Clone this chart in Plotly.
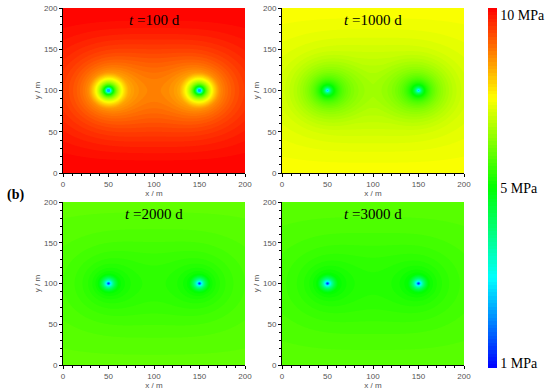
import numpy as np
import plotly.graph_objects as go

# ---- data ----
panel_titles = ["<i>t</i> =100 d", "<i>t</i> =1000 d", "<i>t</i> =2000 d", "<i>t</i> =3000 d"]
edge_pressure = [10.0, 7.45, 5.93, 5.85]    # MPa at y=0 / y=200 boundaries
far_drawdown = [5.6, 3.8, 2.2, 2.1]         # MPa, reservoir-scale drawdown amplitude
near_drawdown = [4.0, 1.1, 2.3, 2.4]        # MPa, near-well cone amplitude
cone_radius = [22.0, 50.0, 12.0, 12.0]      # m
min_pressure = [2.4, 2.3, 1.4, 1.3]         # MPa at the wells
well_x = [50.0, 150.0]
well_y = [100.0, 100.0]
bar_ticks = [1.0, 5.0, 10.0]
bar_labels = ["1 MPa", "5 MPa", "10 MPa"]
bar_tick_pos = [0.014, 0.5, 0.98]           # where the labels sit along the bar
axis_ticks = [0, 50, 100, 150, 200]

H = 200.0
rw = 1.0
grid = np.arange(0, 201, 1.0)
X, Y = np.meshgrid(grid, grid)


def strip_kernel(X, Y, x0, y0):
    a = np.cosh(np.pi * (X - x0) / H)
    num = a - np.cos(np.pi * (Y + y0) / H)
    den = a - np.cos(np.pi * (Y - y0) / H)
    den = np.maximum(den, (np.pi * rw / H) ** 2 / 2)
    return np.log(num / den)


f = sum(strip_kernel(X, Y, xw, yw) for xw, yw in zip(well_x, well_y))
s = np.clip(f / f.max(), 0, 1) ** 1.5
r = np.minimum.reduce([np.hypot(X - xw, Y - yw) for xw, yw in zip(well_x, well_y)])
r = np.maximum(r, rw)

colorscale = [
    [0.0, "rgb(0,0,255)"],
    [0.25, "rgb(0,255,255)"],
    [0.5, "rgb(0,255,0)"],
    [0.75, "rgb(255,255,0)"],
    [1.0, "rgb(255,0,0)"],
]

W, Hpx = 550, 390
px_x = [(63, 245), (282, 464), (63, 245), (282, 464)]
px_y = [(8, 173), (8, 173), (202, 365), (202, 365)]


def fx(v):
    return v / W


def fy(v):
    return 1 - v / Hpx


axfont = dict(family="Liberation Sans", size=8, color="#555555")
fig = go.Figure()
for i in range(4):
    R = cone_radius[i]
    L = np.clip(np.log(R / r) / np.log(R / rw), 0, 1)
    p = edge_pressure[i] - far_drawdown[i] * s - near_drawdown[i] * L
    p = np.maximum(p, min_pressure[i])
    c = np.interp(p, bar_ticks, [0.0, 0.5, 1.0])
    xa = "x" if i == 0 else f"x{i+1}"
    ya = "y" if i == 0 else f"y{i+1}"
    fig.add_trace(go.Contour(
        x=grid, y=grid, z=c, xaxis=xa, yaxis=ya,
        colorscale=colorscale, zmin=0, zmax=1,
        contours=dict(start=0, end=1, size=0.01, coloring="fill", showlines=False),
        line=dict(width=0),
        showscale=(i == 0),
        colorbar=dict(
            x=fx(488), xanchor="left", xpad=0, ypad=0, thickness=9, thicknessmode="pixels",
            len=360 / Hpx, lenmode="fraction", y=fy(188), yanchor="middle",
            tickvals=bar_tick_pos, ticktext=bar_labels, ticks="", ticklabelposition="outside",
            outlinewidth=0,
            tickfont=dict(family="Liberation Serif", size=14, color="black"),
        ),
    ))
    d = dict(
        range=[0, 200], tickvals=axis_ticks, showline=True, linecolor="black", linewidth=1,
        ticks="outside", ticklen=3, tickcolor="black", mirror=False, showgrid=False, zeroline=False,
        tickfont=axfont, ticklabeloverflow="allow",
        minor=dict(dtick=10, ticks="outside", ticklen=2, tickcolor="black"),
    )
    xd = dict(d, domain=[fx(px_x[i][0]), fx(px_x[i][1])], anchor=ya,
              title=dict(text="x / m", font=axfont, standoff=2))
    yd = dict(d, domain=[fy(px_y[i][1]), fy(px_y[i][0])], anchor=xa,
              title=dict(text="y / m", font=axfont, standoff=2))
    fig.layout["xaxis" if i == 0 else f"xaxis{i+1}"] = xd
    fig.layout["yaxis" if i == 0 else f"yaxis{i+1}"] = yd
    fig.add_annotation(
        text=panel_titles[i], xref="paper", yref="paper",
        x=fx((px_x[i][0] + px_x[i][1]) / 2), y=fy(px_y[i][0] + 12),
        xanchor="center", yanchor="middle", showarrow=False,
        font=dict(family="Liberation Serif", size=15, color="black"),
    )

fig.add_annotation(text="<b>(b)</b>", xref="paper", yref="paper", x=fx(15), y=fy(195),
                   xanchor="center", yanchor="middle", showarrow=False,
                   font=dict(family="Liberation Serif", size=14, color="black"))

fig.update_layout(width=W, height=Hpx, margin=dict(l=0, r=0, t=0, b=0, autoexpand=False),
                  paper_bgcolor="white", plot_bgcolor="white", showlegend=False)
fig.write_html("out.html", config={"displayModeBar": False},
               post_script="document.body.style.margin='0px';")
